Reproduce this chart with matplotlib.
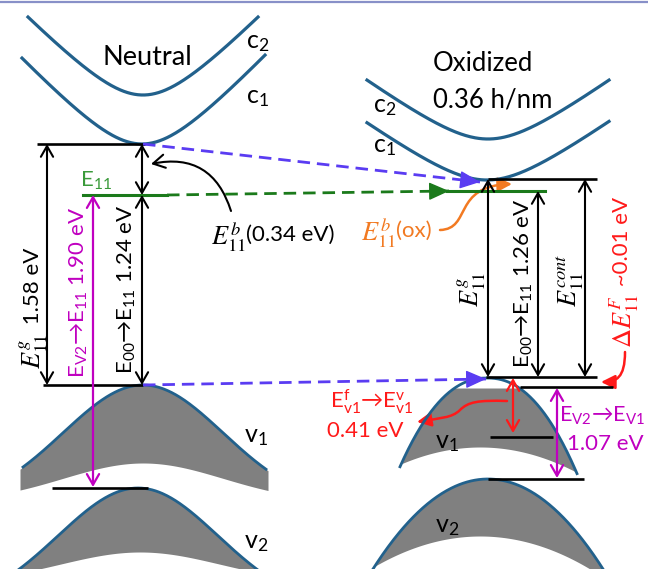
import numpy as np
import matplotlib
matplotlib.use("Agg")
import matplotlib.pyplot as plt
from matplotlib.patches import FancyArrowPatch
from matplotlib.path import Path

# ---------------- data (energies / labels) ----------------
panel_titles = ["Neutral", "Oxidized", "0.36 h/nm"]
band_names = ["c$_2$", "c$_1$", "v$_1$", "v$_2$"]
E11g_neutral = "1.58"
E00_E11_neutral = "1.24"
Ev2_E11_neutral = "1.90"
E11b_neutral = "0.34"
E00_E11_ox = "1.26"
dE11F_ox = "0.01"
Evf_Evv_ox = "0.41"
Ev2_Ev1_ox = "1.07"

# ---------------- style ----------------
plt.rcParams["font.family"] = ["Lato", "DejaVu Sans"]
plt.rcParams["mathtext.fontset"] = "custom"
plt.rcParams["mathtext.rm"] = "Lato"
plt.rcParams["mathtext.it"] = "Lato:italic"
plt.rcParams["mathtext.bf"] = "Lato:bold"
plt.rcParams["mathtext.fallback"] = "stix"

BLUE = "#22618c"
GRAY = "#808080"
VIOLET = "#5a3cf2"
GREEN = "#1b7a1b"
GREEN_T = "#3a9a3a"
MAG = "#c000c0"
RED = "#ff1a1a"
ORANGE = "#f27a22"
ARR = "→"

fig = plt.figure(figsize=(6.48, 5.69), dpi=100)
ax = fig.add_axes([0, 0, 1, 1])
ax.set_xlim(0, 648)
ax.set_ylim(569, 0)
ax.axis("off")

# top rule
ax.plot([0, 648], [1.5, 1.5], color="#8890c8", lw=1.6)


def hyper(xc, ymin, a, b, x):
    return ymin - a * (np.sqrt(1 + ((x - xc) / b) ** 2) - 1)


def gauss(xc, ypk, A, s, x):
    return ypk + A * (1 - np.exp(-(x - xc) ** 2 / (2 * s ** 2)))


def powc(xc, ypk, A, w, p, x):
    return ypk + A * (np.abs(x - xc) / w) ** p


def hline(x1, x2, y, color="k", lw=1.9):
    ax.plot([x1, x2], [y, y], color=color, lw=lw, solid_capstyle="butt")


def darrow(x, y1, y2, color="k", lw=1.5, style="<->"):
    ax.annotate("", xy=(x, y2), xytext=(x, y1),
                arrowprops=dict(arrowstyle=f"{style},head_length=0.7,head_width=0.4",
                                color=color, lw=lw, shrinkA=0, shrinkB=0,
                                mutation_scale=11))


def dashed_arrow(p0, p1, color):
    ax.plot([p0[0], p1[0]], [p0[1], p1[1]], color=color, lw=2.0,
            dashes=(4.5, 2.5))
    d = np.array(p1) - np.array(p0)
    d = d / np.hypot(*d)
    ax.annotate("", xy=p1, xytext=(p1[0] - 3 * d[0], p1[1] - 3 * d[1]),
                arrowprops=dict(arrowstyle="-|>,head_length=0.9,head_width=0.4",
                                color=color, lw=1.0, shrinkA=0, shrinkB=0,
                                mutation_scale=14))


def path_arrow(verts, codes, color, lw=1.8, style="-|>"):
    p = FancyArrowPatch(path=Path(verts, codes),
                        arrowstyle=f"{style},head_length=0.7,head_width=0.35",
                        color=color, lw=lw, mutation_scale=12,
                        transform=ax.transData)
    ax.add_patch(p)


def rtext(x, y, s, **kw):
    ax.text(x, y, s, rotation=90, rotation_mode="anchor", **kw)


# ---------------- Neutral bands ----------------
x = np.linspace(28, 258, 200)
ax.plot(x, hyper(143, 95, 51.7, 50, x), color=BLUE, lw=2.3)
x = np.linspace(22, 265, 200)
ax.plot(x, hyper(142, 144, 53.7, 50, x), color=BLUE, lw=2.3)

x = np.linspace(20, 268, 300)
top = gauss(143, 385, 121.5, 80, x)
bot = gauss(143, 463, 39, 80, x)
ax.fill_between(x, top, bot, color=GRAY, lw=0)
xs = np.linspace(23, 266, 300)
ax.plot(xs, gauss(143, 385, 121.5, 80, xs), color=BLUE, lw=2.0)

x = np.linspace(12, 272, 300)
top = gauss(138, 488, 121.5, 80, x)
bot = gauss(140, 552, 31, 80, x)
ax.fill_between(x, top, np.minimum(bot, 575), where=top < bot, color=GRAY, lw=0)
ax.plot(x, top, color=BLUE, lw=2.0)

# ---------------- Oxidized bands ----------------
x = np.linspace(367, 609, 200)
ax.plot(x, hyper(488, 139, 36.4, 50, x), color=BLUE, lw=2.3)
ax.plot(x, hyper(487, 180, 35.8, 50, x), color=BLUE, lw=2.3)

x = np.linspace(400, 577, 300)
top = powc(487, 378, 91, 88, 2.2, x)
bot = powc(480, 447, 21, 88, 2.0, x)
ax.fill_between(x, np.maximum(top, 388), bot, where=top < bot, color=GRAY, lw=0)
ax.plot(x, top, color=BLUE, lw=2.0)

x = np.linspace(370, 606, 300)
top = powc(488, 479, 90, 115, 2.0, x)
bot = powc(480, 536, 33, 110, 2.0, x)
ax.fill_between(x, top, np.minimum(bot, 575), where=top < bot, color=GRAY, lw=0)
ax.plot(x, top, color=BLUE, lw=2.0)

# ---------------- Neutral levels & arrows ----------------
hline(37, 145, 144)
hline(43, 143, 385)
hline(52, 148, 488)
ax.plot([83, 167], [195, 195], color=GREEN, lw=2.2)
darrow(47, 144, 385)
darrow(142, 144, 195)
darrow(142, 195, 385)
darrow(93, 195, 487, color=MAG, lw=1.6)

dashed_arrow((143, 144), (480, 182), VIOLET)
dashed_arrow((143, 385), (486, 379), VIOLET)
dashed_arrow((167, 195), (449, 191), GREEN)

ax.annotate("", xy=(151, 164), xytext=(231, 211),
            arrowprops=dict(arrowstyle="->,head_length=0.7,head_width=0.4",
                            color="k", lw=1.5, shrinkA=0, shrinkB=0,
                            mutation_scale=12, connectionstyle="arc3,rad=0.45"))

# ---------------- Oxidized levels & arrows ----------------
hline(488, 597, 179)
ax.plot([447, 545], [191, 191], color=GREEN, lw=2.2)
hline(486, 597, 377)
hline(520, 613, 387)
hline(490, 553, 437)
hline(488, 584, 479)
darrow(488, 179, 377)
darrow(538, 191, 377)
darrow(585, 179, 377)
darrow(513, 378, 433, color=RED, lw=1.6)
darrow(557, 388, 478, color=MAG, lw=1.6)

path_arrow([(440, 230), (472, 229), (452, 186), (512, 184)],
           [Path.MOVETO, Path.CURVE4, Path.CURVE4, Path.CURVE4], ORANGE)
path_arrow([(625, 352), (625, 378), (616, 382), (601, 382)],
           [Path.MOVETO, Path.CURVE4, Path.CURVE4, Path.CURVE4], RED)
path_arrow([(507, 401), (478, 400), (468, 402), (460, 410),
            (452, 418), (440, 418), (417, 422)],
           [Path.MOVETO, Path.CURVE4, Path.CURVE4, Path.CURVE4,
            Path.CURVE4, Path.CURVE4, Path.CURVE4], RED)

# ---------------- text ----------------
ax.text(147, 57, panel_titles[0], fontsize=19.5, ha="center", va="center")
ax.text(433, 63, panel_titles[1], fontsize=18.5, ha="left", va="center")
ax.text(433, 100, panel_titles[2], fontsize=18.5, ha="left", va="center")

BL = 18
for (xx, yy), lab in zip([(258, 42), (258, 97), (256, 437), (256, 542)], band_names):
    ax.text(xx, yy, lab, fontsize=BL, ha="center", va="center")
for (xx, yy), lab in zip([(385, 106), (385, 146), (447, 442), (447, 527)], band_names):
    ax.text(xx, yy, lab, fontsize=BL, ha="center", va="center")

FS = 16
MS = 19
ax.text(96, 181, r"E$_{11}$", fontsize=FS, color=GREEN_T, ha="center", va="center")

# neutral: E11^g 1.58 eV
rtext(34, 334, r"$E_{11}^{g}$", fontsize=MS, ha="right", va="center",
      math_fontfamily="stix")
rtext(33, 330, " " + E11g_neutral + " eV", fontsize=FS, ha="left", va="center")
rtext(79, 292, r"E$_{\mathrm{V2}}$" + ARR + r"E$_{11}$ " + Ev2_E11_neutral + " eV",
      fontsize=FS, ha="center", va="center", color=MAG)
rtext(127, 289, r"E$_{00}$" + ARR + r"E$_{11}$ " + E00_E11_neutral + " eV",
      fontsize=FS, ha="center", va="center")
ax.text(246, 237, r"$E_{11}^{b}$", fontsize=MS, ha="right", va="center",
        math_fontfamily="stix")
ax.text(246, 235, "(" + E11b_neutral + " eV)", fontsize=FS, ha="left", va="center")

# oxidized
ax.text(396, 233, r"$E_{11}^{b}$", fontsize=MS, ha="right", va="center",
        color=ORANGE, math_fontfamily="stix")
ax.text(396, 231, "(ox)", fontsize=FS, ha="left", va="center", color=ORANGE)
rtext(472, 290, r"$E_{11}^{g}$", fontsize=MS, ha="center", va="center",
      math_fontfamily="stix")
rtext(524, 283, r"E$_{00}$" + ARR + r"E$_{11}$ " + E00_E11_ox + " eV",
      fontsize=FS, ha="center", va="center")
rtext(570, 280, r"$E_{11}^{cont}$", fontsize=MS, ha="center", va="center",
      math_fontfamily="stix")
rtext(624, 348, r"$\Delta E_{11}^{F}$", fontsize=MS, ha="left", va="center",
      color=RED, math_fontfamily="stix")
rtext(622, 292, " ~" + dE11F_ox + " eV", fontsize=FS, ha="left", va="center",
      color=RED)
ax.text(372, 402, r"E$^{\mathrm{f}}_{\mathrm{v1}}$" + ARR + r"E$^{\mathrm{v}}_{\mathrm{v1}}$",
        fontsize=FS, ha="center", va="center", color=RED)
ax.text(365, 431, Evf_Evv_ox + " eV", fontsize=FS, ha="center", va="center", color=RED)
ax.text(645, 416, r"E$_{\mathrm{V2}}$" + ARR + r"E$_{\mathrm{V1}}$", fontsize=15.5,
        ha="right", va="center", color=MAG)
ax.text(605, 444, Ev2_Ev1_ox + " eV", fontsize=FS, ha="center", va="center", color=MAG)

fig.savefig("out.png", dpi=100)
